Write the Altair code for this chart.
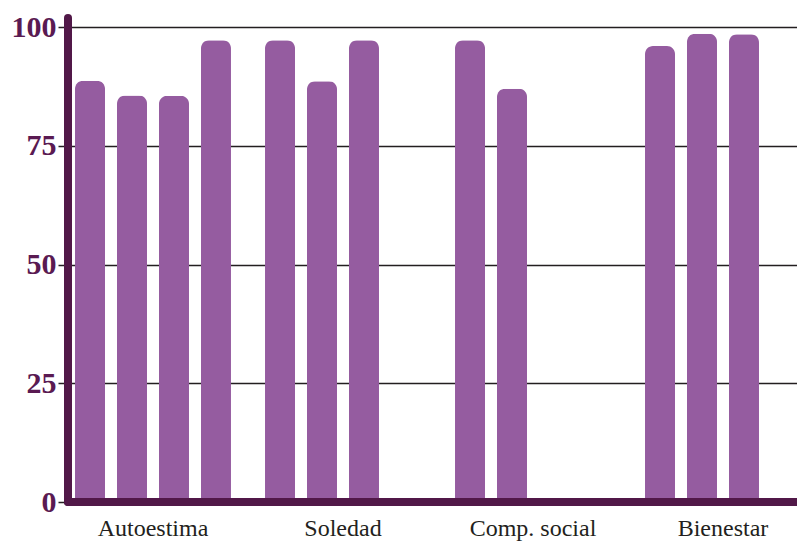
import altair as alt
import pandas as pd

groups = ["Autoestima", "Soledad", "Comp. social", "Bienestar"]
autoestima = [88.7, 85.6, 85.5, 97.2]
soledad = [97.2, 88.6, 97.2]
comp_social = [97.2, 87.0]
bienestar = [96.0, 98.6, 98.5]
slots = ["1", "2", "3", "4"]
y_ticks = [0, 25, 50, 75, 100]

series = [autoestima, soledad, comp_social, bienestar]
rows = []
for g, vals in zip(groups, series):
    for i, v in enumerate(vals):
        rows.append({"grupo": g, "slot": slots[i], "valor": v})
df = pd.DataFrame(rows)

W, H = 729, 475
AXIS_COLOR = "#511848"
LABEL_COLOR = "#5A1A52"
BAR_COLOR = "#955CA0"

x_enc = alt.X(
    "grupo:N",
    sort=groups,
    scale=alt.Scale(domain=groups, range=[-10, 750], paddingInner=0, paddingOuter=0),
    axis=alt.Axis(
        title=None, domain=False, ticks=False, labelAngle=0,
        labelFont="Liberation Serif", labelFontSize=24, labelColor="#231F20",
        labelBaseline="alphabetic", labelPadding=33,
    ),
)
y_enc = alt.Y(
    "valor:Q",
    scale=alt.Scale(domain=[0, 100], nice=False, zero=True),
    axis=alt.Axis(
        title=None, values=y_ticks, domain=False, ticks=False,
        grid=True, gridColor="#231F20", gridWidth=1.5,
        labelFont="Liberation Serif", labelFontSize=30, labelFontWeight="bold",
        labelColor=LABEL_COLOR, labelPadding=12,
    ),
)

bars = alt.Chart(df).mark_bar(
    color=BAR_COLOR, cornerRadiusTopLeft=8, cornerRadiusTopRight=8
).encode(
    x=x_enc,
    xOffset=alt.XOffset(
        "slot:N",
        scale=alt.Scale(domain=slots, paddingInner=0.2857, paddingOuter=0.405),
    ),
    y=y_enc,
)

y_axis_line = alt.Chart(pd.DataFrame({"a": [0]})).mark_rule(
    color=AXIS_COLOR, strokeWidth=8, strokeCap="round"
).encode(x=alt.value(0), y=alt.value(-9), y2=alt.value(H))

x_axis_line = alt.Chart(pd.DataFrame({"a": [0]})).mark_rule(
    color=AXIS_COLOR, strokeWidth=8, strokeCap="round"
).encode(x=alt.value(0), x2=alt.value(W + 10), y=alt.value(H))

chart = alt.layer(bars, y_axis_line, x_axis_line).properties(
    width=W,
    height=H,
    autosize=alt.AutoSizeParams(type="none"),
    padding={"left": 68, "top": 27, "right": 0, "bottom": 39},
    background="white",
).configure_view(stroke=None)

chart.save("out.html", embed_options={"renderer": "svg", "actions": False})
